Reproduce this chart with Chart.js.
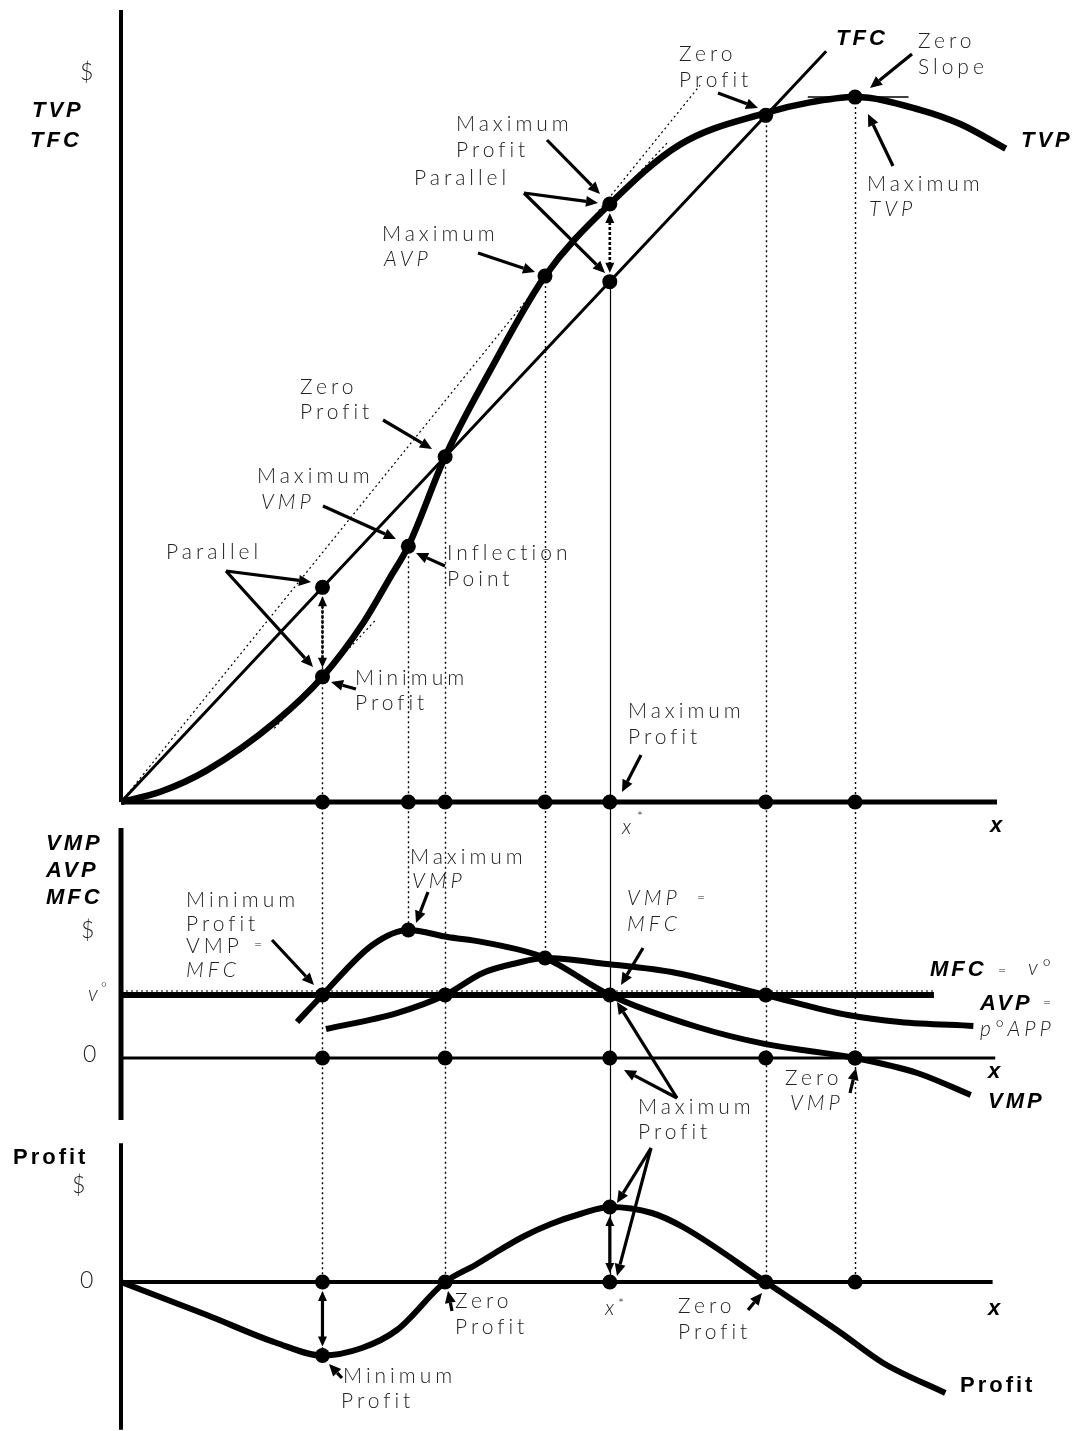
<!DOCTYPE html>
<html><head><meta charset="utf-8">
<script src="https://cdn.jsdelivr.net/npm/chart.js@4/dist/chart.umd.min.js"></script>
<style>html,body{margin:0;padding:0;background:#fff}canvas{display:block}</style>
</head><body>
<canvas id="c" width="1078" height="1431"></canvas>
<script>
// ================= DATA =================
// key input levels: min profit, inflection / max VMP, zero profit, max AVP, x*, zero profit, max TVP
const keyX = [23, 32.8, 37, 48.4, 55.8, 73.6, 83.8];

// Top panel: TVP and TFC ($)
const tvpX = [0, 4.5, 9.8, 17.7, 23, 27.7, 30.7, 32.8, 37, 42.1, 48.4, 55.8, 63.8, 73.6, 78.5, 83.8, 91.2, 95.8, 101];
const tvpY = [0, 1.3, 4.0, 10.2, 15.8, 22.7, 28.3, 32.3, 43.6, 54.4, 66.4, 75.5, 83.0, 87.0, 88.3, 89.0, 87.4, 85.6, 82.5];
const tfcX = [0, 80.5];
const tfcY = [0, 94.8];
const rayX = [0, 66.1];            // tangent ray from origin (max AVP)
const rayY = [0, 90.5];
const tanProfitX = [48.5, 62.5];   // tangent parallel to TFC at max profit
const tanProfitY = [66.9, 83.4];
const tanMinX = [17.5, 29];        // tangent parallel to TFC at min profit
const tanMinY = [9.3, 22.9];
const zeroSlopeX = [78.4, 89.9];
const zeroSlopeY = [89.0, 89.0];
const topDotX = [23, 23, 32.8, 37, 48.4, 55.8, 55.8, 73.6, 83.8];
const topDotY = [27.1, 15.8, 32.3, 43.6, 66.4, 75.5, 65.7, 86.7, 89.0];

// Middle panel: VMP, AVP, MFC
const vmpX = [20.1, 23, 28.7, 32.8, 37.3, 41.3, 48.4, 55.8, 65.8, 73.6, 83.8, 90.9, 97.0];
const vmpY = [2.86, 5, 8.97, 10.16, 9.6, 9.2, 7.94, 5, 2.46, 1.1, 0, -1.19, -2.94];
const avpX = [23.4, 31.5, 37, 41.3, 45.2, 48.4, 55.5, 63.4, 73.6, 83.0, 88.9, 97.3];
const avpY = [2.3, 3.57, 5, 6.75, 7.54, 7.94, 7.46, 6.75, 5, 3.41, 2.86, 2.54];
const mfcX = [0, 92.8];
const mfcY = [5, 5];
const midDotX = [23, 32.8, 37, 48.4, 55.8, 73.6, 83.8];
const midDotY = [5, 10.16, 5, 7.94, 5, 5, 0];

// Bottom panel: Profit
const profitX = [0, 9.8, 17.7, 23, 27.5, 31.5, 37, 40.5, 43.3, 46, 49, 52.5, 55.8, 60.6, 64.2, 73.6, 82.2, 87, 94.1];
const profitY = [0, -4.4, -8.1, -9.8, -8.8, -6.4, 0, 2.3, 4.3, 6.1, 7.7, 9.1, 10, 9.2, 7.3, 0, -6.8, -10.8, -14.8];
const botDotX = [23, 55.8];
const botDotY = [-9.8, 10];

// axis extents (value units)
const topAxis = {xEnd: 100, yMin: 0, yMax: 100};
const midAxis = {xEnd: 99.8, yMin: -4.92, yMax: 18.25};
const botAxis = {xEnd: 99.5, yMin: -19.7, yMax: 18.5};

// ================= LAYOUT =================
const W = 1078, H = 1431;
function linRange(v0, p0, v1, p1, size) {
  const k = (p1 - p0) / (v1 - v0);
  const a = v0 + (0 - p0) / k, b = v0 + (size - p0) / k;
  return [Math.min(a, b), Math.max(a, b)];
}
const xR = linRange(0, 121, 100, 997, W);
const topR = linRange(0, 802, 100, 10, H);
const midR = linRange(0, 1058, 5, 995, H);
const botR = linRange(0, 1282, 10, 1207, H);

const pts = (xs, ys) => xs.map((x, i) => ({x, y: ys[i]}));
const K = '#000';
function line(xs, ys, axis, width, extra) {
  return Object.assign({data: pts(xs, ys), yAxisID: axis, borderColor: K, borderWidth: width,
    pointRadius: 0, showLine: true, fill: false, clip: false, borderJoinStyle: 'round',
    cubicInterpolationMode: 'monotone'}, extra || {});
}
function dots(xs, ys, axis) {
  return {data: pts(xs, ys), yAxisID: axis, showLine: false, pointRadius: 7.5, pointHoverRadius: 7.5,
    pointBackgroundColor: K, pointBorderColor: K, pointBorderWidth: 0, clip: false};
}
const zeros = xs => xs.map(() => 0);
const lowAxisDots = [23, 37, 55.8, 73.6, 83.8];

const datasets = [
  dots(topDotX, topDotY, 'yTop'),
  dots(keyX, zeros(keyX), 'yTop'),
  dots(midDotX, midDotY, 'yMid'),
  dots(lowAxisDots, zeros(lowAxisDots), 'yMid'),
  dots(botDotX, botDotY, 'yBot'),
  dots(lowAxisDots, zeros(lowAxisDots), 'yBot'),
  // top panel
  line(tvpX, tvpY, 'yTop', 6.5),
  line(tfcX, tfcY, 'yTop', 3),
  line(rayX, rayY, 'yTop', 1.2, {borderDash: [2, 3]}),
  line(tanProfitX, tanProfitY, 'yTop', 1.2, {borderDash: [2, 3]}),
  line(tanMinX, tanMinY, 'yTop', 1.2, {borderDash: [2, 3]}),
  line(zeroSlopeX, zeroSlopeY, 'yTop', 1.5),
  line([0, topAxis.xEnd], [0, 0], 'yTop', 5),
  line([0, 0], [topAxis.yMin, topAxis.yMax], 'yTop', 4),
  // middle panel
  line(vmpX, vmpY, 'yMid', 6),
  line(avpX, avpY, 'yMid', 6),
  line(mfcX, mfcY, 'yMid', 6),
  line([0, midAxis.xEnd], [0, 0], 'yMid', 3),
  line([0, 0], [midAxis.yMin, midAxis.yMax], 'yMid', 5),
  // bottom panel
  line(profitX, profitY, 'yBot', 6),
  line([0, botAxis.xEnd], [0, 0], 'yBot', 4),
  line([0, 0], [botAxis.yMin, botAxis.yMax], 'yBot', 4)
];

// vertical guides: [x, scaleA, yA, scaleB, yB, dotted]
const guides = [
  [keyX[0], 'yTop', 27.1, 'yBot', -9.8, true],
  [keyX[1], 'yTop', 32.3, 'yMid', 10.16, true],
  [keyX[2], 'yTop', 43.6, 'yBot', 0, true],
  [keyX[3], 'yTop', 66.4, 'yMid', 7.94, true],
  [keyX[4], 'yTop', 65.7, 'yBot', 0, false],
  [keyX[5], 'yTop', 86.7, 'yBot', 0, true],
  [keyX[6], 'yTop', 89.0, 'yBot', 0, true]
];
// double arrows between values: [x, scale, yA, yB, dashed]
const doubles = [
  [keyX[0], 'yTop', 27.1, 15.8, true],
  [keyX[4], 'yTop', 75.5, 65.7, true],
  [keyX[0], 'yBot', 0, -9.8, false],
  [keyX[4], 'yBot', 10, 0, false]
];

// annotation arrows (pixels): tail -> head
const arrows = [
  [718,93,758,108],[912,54,870,88],[893,166,868,114],[547,140,600,194],
  [524,193,598,203],[524,193,605,273],[478,253,535,272],[383,420,432,449],
  [323,506,396,539],[445,566,416,553],[226,571,311,582],[226,571,313,667],
  [356,689,331,682],[641,755,622,792],
  [428,892,416,923],[272,940,314,985],[643,948,621,985],[677,1098,617,1002],
  [677,1098,624,1070],[850,1093,856,1068],
  [651,1148,617,1203],[651,1148,617,1276],[452,1311,448,1291],[748,1310,762,1293],
  [342,1378,329,1364]
];

// labels: [x, y(middle), text, style]
const labels = [
  [80,73,'$','D'],[32,111,'TVP','BI'],[30,141,'TFC','BI'],
  [679,54,'Zero','L'],[679,80,'Profit','L'],[836,39,'TFC','BI'],
  [918,41,'Zero','L'],[918,67,'Slope','L'],[1021,141,'TVP','BI'],
  [867,184,'Maximum','L'],[869,209,'TVP','LI'],
  [456,124,'Maximum','L'],[456,150,'Profit','L'],[414,178,'Parallel','L'],
  [382,234,'Maximum','L'],[384,259,'AVP','LI'],
  [300,387,'Zero','L'],[300,412,'Profit','L'],
  [257,476,'Maximum','L'],[261,502,'VMP','LI'],
  [166,552,'Parallel','L'],[447,553,'Inflection','L'],[447,579,'Point','L'],
  [355,678,'Minimum','L'],[355,703,'Profit','L'],
  [628,711,'Maximum','L'],[628,737,'Profit','L'],
  [622,827,'x','LI'],[637,816,'*','S'],[990,826,'x','BI'],
  [46,844,'VMP','BI'],[46,871,'AVP','BI'],[46,898,'MFC','BI'],
  [81,931,'$','D'],[88,994,'v','LI'],[101,988,'°','S'],[83,1055,'0','D'],
  [410,857,'Maximum','L'],[412,881,'VMP','LI'],
  [186,900,'Minimum','L'],[186,924,'Profit','L'],[186,946,'VMP','L'],[254,944,'=','S'],[186,970,'MFC','LI'],
  [627,898,'VMP','LI'],[697,897,'=','S'],[627,924,'MFC','LI'],
  [930,970,'MFC','BI'],[998,970,'=','S'],[1028,968,'v°','LI'],
  [980,1004,'AVP','BI'],[1043,1002,'=','S'],[980,1029,'p°APP','LI'],
  [988,1072,'x','BI'],[988,1102,'VMP','BI'],
  [785,1078,'Zero','L'],[790,1103,'VMP','LI'],
  [638,1107,'Maximum','L'],[638,1132,'Profit','L'],
  [13,1158,'Profit','B'],[72,1186,'$','D'],[80,1281,'0','D'],
  [455,1301,'Zero','L'],[455,1327,'Profit','L'],
  [605,1308,'x','LI'],[618,1303,'*','S'],
  [678,1306,'Zero','L'],[678,1332,'Profit','L'],
  [988,1309,'x','BI'],
  [343,1376,'Minimum','L'],[341,1401,'Profit','L'],
  [960,1386,'Profit','B']
];
const STYLES = {
  L:  {font: '300 21px Lato, "DejaVu Sans", sans-serif', sp: '4px', c: '#222'},
  LI: {font: 'italic 300 21px Lato, "DejaVu Sans", sans-serif', sp: '4px', c: '#222'},
  D:  {font: '300 23px Lato, "DejaVu Sans", sans-serif', sp: '0px', c: '#222'},
  S:  {font: '300 14px Lato, "DejaVu Sans", sans-serif', sp: '0px', c: '#222'},
  BI: {font: 'italic bold 22px "Liberation Sans", Arial, sans-serif', sp: '3px', c: '#000'},
  B:  {font: 'bold 22px "Liberation Sans", Arial, sans-serif', sp: '3px', c: '#000'}
};

function drawArrowHead(ctx, x1, y1, x2, y2, hl, hw) {
  const a = Math.atan2(y2 - y1, x2 - x1);
  const bx = x2 - hl * Math.cos(a), by = y2 - hl * Math.sin(a);
  ctx.beginPath();
  ctx.moveTo(x2, y2);
  ctx.lineTo(bx + hw * Math.sin(a), by - hw * Math.cos(a));
  ctx.lineTo(bx - hw * Math.sin(a), by + hw * Math.cos(a));
  ctx.closePath(); ctx.fill();
}
function drawArrow(ctx, x1, y1, x2, y2) {
  const a = Math.atan2(y2 - y1, x2 - x1);
  const hl = 12;
  ctx.lineWidth = 3.2; ctx.setLineDash([]);
  ctx.beginPath(); ctx.moveTo(x1, y1);
  ctx.lineTo(x2 - hl * Math.cos(a), y2 - hl * Math.sin(a)); ctx.stroke();
  drawArrowHead(ctx, x1, y1, x2, y2, hl, 5.5);
}

const deco = {
  id: 'deco',
  beforeDatasetsDraw(chart) {
    const ctx = chart.ctx, sx = chart.scales.x;
    ctx.save();
    ctx.strokeStyle = K;
    guides.forEach(g => {
      const px = Math.round(sx.getPixelForValue(g[0])) + 0.5;
      ctx.setLineDash(g[5] ? [2, 3] : []);
      ctx.lineWidth = g[5] ? 1.4 : 1.2;
      ctx.beginPath();
      ctx.moveTo(px, chart.scales[g[1]].getPixelForValue(g[2]));
      ctx.lineTo(px, chart.scales[g[3]].getPixelForValue(g[4]));
      ctx.stroke();
    });
    // dotted v° guide just above MFC
    const ym = chart.scales.yMid.getPixelForValue(mfcY[0]) - 4;
    ctx.setLineDash([2, 3]); ctx.lineWidth = 1.2;
    ctx.beginPath(); ctx.moveTo(sx.getPixelForValue(0), ym); ctx.lineTo(sx.getPixelForValue(mfcX[1]), ym); ctx.stroke();
    ctx.restore();
  },
  afterDatasetsDraw(chart) {
    const ctx = chart.ctx, sx = chart.scales.x;
    ctx.save();
    ctx.fillStyle = K; ctx.strokeStyle = K; ctx.lineCap = 'butt';
    arrows.forEach(a => drawArrow(ctx, a[0], a[1], a[2], a[3]));
    doubles.forEach(d => {
      const px = sx.getPixelForValue(d[0]);
      const sc = chart.scales[d[1]];
      const y1 = sc.getPixelForValue(d[2]) + 9, y2 = sc.getPixelForValue(d[3]) - 9;
      ctx.lineWidth = d[4] ? 2.6 : 3.2;
      ctx.setLineDash(d[4] ? [3, 2] : []);
      ctx.beginPath(); ctx.moveTo(px, y1 + 9); ctx.lineTo(px, y2 - 9); ctx.stroke();
      ctx.setLineDash([]);
      drawArrowHead(ctx, px, y2, px, y1, 10, 4.5);
      drawArrowHead(ctx, px, y1, px, y2, 10, 4.5);
    });
    ctx.textBaseline = 'middle'; ctx.textAlign = 'left';
    labels.forEach(l => {
      const st = STYLES[l[3]];
      ctx.font = st.font; ctx.fillStyle = st.c;
      if ('letterSpacing' in ctx) ctx.letterSpacing = st.sp;
      ctx.fillText(l[2], l[0], l[1]);
    });
    ctx.restore();
  }
};

new Chart(document.getElementById('c'), {
  type: 'line',
  data: {datasets},
  plugins: [deco],
  options: {
    responsive: false, animation: false, events: [],
    layout: {padding: 0, autoPadding: false},
    plugins: {legend: {display: false}, tooltip: {enabled: false}, title: {display: false}},
    scales: {
      x: {type: 'linear', min: xR[0], max: xR[1], display: false, bounds: 'data'},
      yTop: {type: 'linear', position: 'left', min: topR[0], max: topR[1], display: false, bounds: 'data'},
      yMid: {type: 'linear', position: 'left', min: midR[0], max: midR[1], display: false, bounds: 'data'},
      yBot: {type: 'linear', position: 'left', min: botR[0], max: botR[1], display: false, bounds: 'data'}
    }
  }
});
</script>
</body></html>
